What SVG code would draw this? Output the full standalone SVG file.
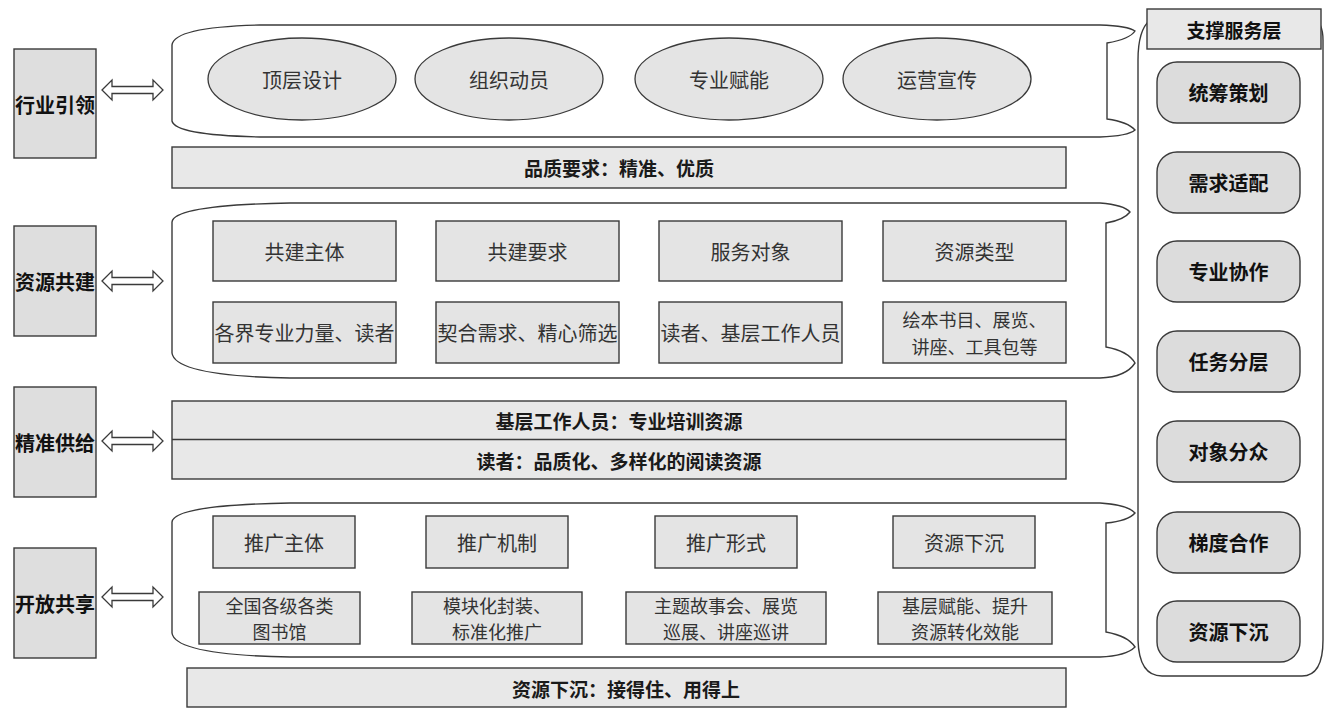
<svg xmlns="http://www.w3.org/2000/svg" width="1329" height="708" viewBox="0 0 1329 708">
<style>
.bg{fill:#ffffff}
.lbl{fill:#dedede;stroke:#3a3a3a;stroke-width:1.4}
.scroll{fill:#ffffff;stroke:#3a3a3a;stroke-width:1.4}
.box{fill:#e4e4e4;stroke:#3a3a3a;stroke-width:1.4}
.band{fill:#e8e8e8;stroke:#3a3a3a;stroke-width:1.4}
.ell{fill:#e4e4e4;stroke:#3a3a3a;stroke-width:1.3}
.rbox{fill:#dcdcdc;stroke:#3a3a3a;stroke-width:1.4}
.arr{fill:#ffffff;stroke:#3a3a3a;stroke-width:1.3}
text{font-family:"Noto Sans CJK SC","Noto Sans",sans-serif;text-anchor:middle;dominant-baseline:central}
.t{font-size:20px;fill:#333333}
.t2{font-size:18px;fill:#333333}
.tb{font-size:19px;font-weight:bold;fill:#1a1a1a}
.tl{font-size:20px;font-weight:bold;fill:#111111}
</style>
<rect class="bg" x="0" y="0" width="1329" height="708"/>

<g id="label-hangye"><rect class="lbl" x="14" y="49" width="82" height="109"/><text class="tl" x="55" y="104">行业引领</text></g>
<g id="label-ziyuan"><rect class="lbl" x="14" y="226" width="82" height="110"/><text class="tl" x="55" y="281">资源共建</text></g>
<g id="label-jingzhun"><rect class="lbl" x="14" y="387" width="82" height="110"/><text class="tl" x="55" y="442">精准供给</text></g>
<g id="label-kaifang"><rect class="lbl" x="14" y="548" width="82" height="110"/><text class="tl" x="55" y="603">开放共享</text></g>

<g id="connectors">
<path class="arr" d="M102,90 L112,80 L112,86.5 L153,86.5 L153,80 L163,90 L153,100 L153,93.5 L112,93.5 L112,100 Z"/>
<path class="arr" d="M102,281 L112,271 L112,277.5 L153,277.5 L153,271 L163,281 L153,291 L153,284.5 L112,284.5 L112,291 Z"/>
<path class="arr" d="M102,441 L112,431 L112,437.5 L153,437.5 L153,431 L163,441 L153,451 L153,444.5 L112,444.5 L112,451 Z"/>
<path class="arr" d="M102,597 L112,587 L112,593.5 L153,593.5 L153,587 L163,597 L153,607 L153,600.5 L112,600.5 L112,607 Z"/>
</g>

<g id="scroll-1">
<path class="scroll" d="M172,45 Q174,27 260,25 L1100,25 Q1128,26 1135,31 Q1130,39 1107,43 L1107,119 Q1128,122 1135,130 Q1128,136 1100,137 L260,137 Q175,135 172,121 Z"/>
<ellipse class="ell" cx="302" cy="79" rx="94" ry="41"/><text class="t" x="302" y="79">顶层设计</text>
<ellipse class="ell" cx="509" cy="79" rx="94" ry="41"/><text class="t" x="509" y="79">组织动员</text>
<ellipse class="ell" cx="729" cy="79" rx="94" ry="41"/><text class="t" x="729" y="79">专业赋能</text>
<ellipse class="ell" cx="937" cy="79" rx="94" ry="41"/><text class="t" x="937" y="79">运营宣传</text>
</g>

<g id="band-quality"><rect class="band" x="172" y="147" width="894" height="41"/><text class="tb" x="619" y="167">品质要求：精准、优质</text></g>

<g id="scroll-2">
<path class="scroll" d="M172,222 Q174,205 290,203 L1100,203 Q1124,205 1130,212 Q1124,220 1106,223 L1106,347 Q1128,351 1135,363 Q1126,377 1100,378 L290,378 Q175,376 172,353 Z"/>
<rect class="box" x="213" y="221" width="183" height="60"/><text class="t" x="304.5" y="251">共建主体</text>
<rect class="box" x="436" y="221" width="183" height="60"/><text class="t" x="527.5" y="251">共建要求</text>
<rect class="box" x="659" y="221" width="183" height="60"/><text class="t" x="750.5" y="251">服务对象</text>
<rect class="box" x="883" y="221" width="183" height="60"/><text class="t" x="974.5" y="251">资源类型</text>
<rect class="box" x="213" y="302" width="183" height="61"/><text class="t" x="304.5" y="332">各界专业力量、读者</text>
<rect class="box" x="436" y="302" width="183" height="61"/><text class="t" x="527.5" y="332">契合需求、精心筛选</text>
<rect class="box" x="659" y="302" width="183" height="61"/><text class="t" x="750.5" y="332">读者、基层工作人员</text>
<rect class="box" x="883" y="302" width="183" height="61"/><text class="t2" x="974.5" y="319">绘本书目、展览、</text><text class="t2" x="974.5" y="346">讲座、工具包等</text>
</g>

<g id="band-supply">
<rect class="band" x="172" y="401" width="894" height="78"/>
<line x1="172" y1="439.5" x2="1066" y2="439.5" stroke="#3a3a3a" stroke-width="1.6"/>
<text class="tb" x="619" y="420">基层工作人员：专业培训资源</text>
<text class="tb" x="619" y="460">读者：品质化、多样化的阅读资源</text>
</g>

<g id="scroll-3">
<path class="scroll" d="M172,522 Q174,505 290,503 L1100,503 Q1128,505 1135,513 Q1128,521 1106,523 L1106,632 Q1128,636 1135,647 Q1126,656 1100,657 L290,657 Q175,655 172,633 Z"/>
<rect class="box" x="213" y="516" width="142" height="52"/><text class="t" x="284" y="542">推广主体</text>
<rect class="box" x="426" y="516" width="142" height="52"/><text class="t" x="497" y="542">推广机制</text>
<rect class="box" x="655" y="516" width="142" height="52"/><text class="t" x="726" y="542">推广形式</text>
<rect class="box" x="893" y="516" width="142" height="52"/><text class="t" x="964" y="542">资源下沉</text>
<rect class="box" x="199" y="592" width="161" height="52"/><text class="t2" x="279.5" y="605">全国各级各类</text><text class="t2" x="279.5" y="631">图书馆</text>
<rect class="box" x="412" y="592" width="170" height="52"/><text class="t2" x="497" y="605">模块化封装、</text><text class="t2" x="497" y="631">标准化推广</text>
<rect class="box" x="626" y="592" width="200" height="52"/><text class="t2" x="726" y="605">主题故事会、展览</text><text class="t2" x="726" y="631">巡展、讲座巡讲</text>
<rect class="box" x="878" y="592" width="174" height="52"/><text class="t2" x="965" y="605">基层赋能、提升</text><text class="t2" x="965" y="631">资源转化效能</text>
</g>

<g id="band-bottom"><rect class="band" x="187" y="668" width="879" height="39"/><text class="tb" x="626" y="688">资源下沉：接得住、用得上</text></g>

<g id="support-layer">
<path class="scroll" d="M1150,20 Q1138,30 1138,60 L1138,640 Q1139,676 1162,676 L1302,676 Q1323,676 1323,640 L1323,40 Q1323,22 1312,16 Z"/>
<rect class="band" x="1147" y="9" width="174" height="40"/><text class="tl" x="1234" y="29" style="font-size:19px">支撑服务层</text>
<rect class="rbox" x="1157" y="62" width="143" height="61" rx="20" ry="20"/><text class="tl" x="1228.5" y="92.5">统筹策划</text>
<rect class="rbox" x="1157" y="152" width="143" height="61" rx="20" ry="20"/><text class="tl" x="1228.5" y="182.5">需求适配</text>
<rect class="rbox" x="1157" y="241" width="143" height="61" rx="20" ry="20"/><text class="tl" x="1228.5" y="271.5">专业协作</text>
<rect class="rbox" x="1157" y="331" width="143" height="61" rx="20" ry="20"/><text class="tl" x="1228.5" y="361.5">任务分层</text>
<rect class="rbox" x="1157" y="421" width="143" height="61" rx="20" ry="20"/><text class="tl" x="1228.5" y="451.5">对象分众</text>
<rect class="rbox" x="1157" y="512" width="143" height="61" rx="20" ry="20"/><text class="tl" x="1228.5" y="542.5">梯度合作</text>
<rect class="rbox" x="1157" y="601" width="143" height="61" rx="20" ry="20"/><text class="tl" x="1228.5" y="631.5">资源下沉</text>
</g>
</svg>
